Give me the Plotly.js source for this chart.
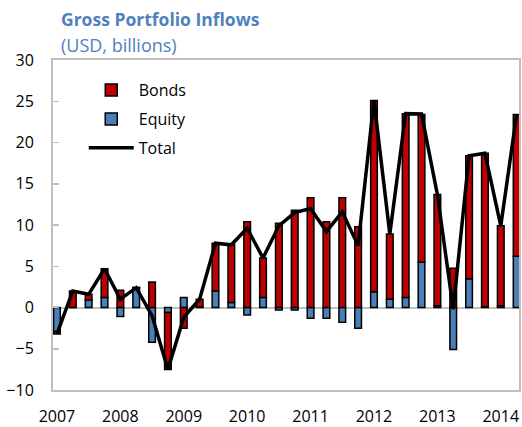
<!DOCTYPE html>
<html>
<head>
<meta charset="utf-8">
<script src="https://cdn.plot.ly/plotly-3.0.1.min.js"></script>
<style>html,body{margin:0;padding:0;background:#fff;}#chart{width:522px;height:427px;}</style>
</head>
<body>
<div id="chart"></div>
<script>
// 2007Q1 .. 2014Q2 (quarterly)
var quarters = ["2007Q1","2007Q2","2007Q3","2007Q4","2008Q1","2008Q2","2008Q3","2008Q4",
  "2009Q1","2009Q2","2009Q3","2009Q4","2010Q1","2010Q2","2010Q3","2010Q4",
  "2011Q1","2011Q2","2011Q3","2011Q4","2012Q1","2012Q2","2012Q3","2012Q4",
  "2013Q1","2013Q2","2013Q3","2013Q4","2014Q1","2014Q2"];
var equity = [-2.9, 0.0, 0.9, 1.2, -1.1, 2.4, -4.2, -0.6,
  1.2, 0.1, 2.0, 0.6, -0.9, 1.2, -0.3, -0.3,
  -1.3, -1.3, -1.8, -2.5, 1.9, 1.0, 1.2, 5.5,
  0.2, -5.1, 3.5, 0.1, 0.2, 6.2];
var bonds = [-0.3, 2.0, 0.7, 3.5, 2.1, 0.05, 3.1, -6.9,
  -2.5, 0.9, 5.8, 7.0, 10.4, 4.8, 10.2, 11.8,
  13.3, 10.4, 13.3, 9.8, 23.2, 7.9, 22.3, 17.9,
  13.5, 4.75, 14.9, 18.6, 9.7, 17.2];
var total = [-3.2, 2.0, 1.6, 4.7, 1.0, 2.4, -1.0, -7.5,
  -1.2, 1.0, 7.8, 7.6, 9.6, 6.0, 9.9, 11.5,
  12.0, 9.2, 11.6, 7.5, 25.1, 8.9, 23.5, 23.45,
  13.7, -0.2, 18.4, 18.7, 9.9, 23.4];
var yearTicks = [0, 4, 8, 12, 16, 20, 24, 28];
var yearLabels = ["2007","2008","2009","2010","2011","2012","2013","2014"];

var idx = quarters.map(function(q, i){ return i; });
var FONT = "'Open Sans', Lato, sans-serif";
var BLUE_TXT = "#4F81BD";

var traces = [
  {type: "bar", name: "Equity", x: idx, y: equity, text: quarters, hoverinfo: "text+y",
   marker: {color: "#4A80B8", line: {color: "#000000", width: 1.5}}, width: 0.42,
   legendrank: 2, legendgroup: "e"},
  {type: "bar", name: "Bonds", x: idx, y: bonds, text: quarters, hoverinfo: "text+y",
   marker: {color: "#C00000", line: {color: "#000000", width: 1.5}}, width: 0.42,
   legendrank: 1, legendgroup: "b"},
  {type: "scatter", mode: "lines", name: "Total", x: idx, y: total,
   line: {color: "#000000", width: 3.5}, legendrank: 3, legendgroup: "t"}
];
traces.forEach(function(t){ t.textposition = "none"; });

var layout = {
  width: 522, height: 427,
  margin: {l: 53, r: 3, t: 60, b: 37},
  paper_bgcolor: "#ffffff", plot_bgcolor: "#ffffff",
  font: {family: FONT, size: 16, color: "#000000"},
  barmode: "relative",
  bargap: 0,
  title: {
    text: "<b>Gross Portfolio Inflows</b>",
    font: {family: FONT, size: 17.5, color: BLUE_TXT},
    x: 61/522, xanchor: "left", xref: "container",
    y: 1 - 20/427, yanchor: "middle", yref: "container"
  },
  annotations: [{
    text: "(USD, billions)", showarrow: false,
    xref: "paper", yref: "paper",
    x: (59-53)/466, xanchor: "left",
    y: 1 + (60-45)/330, yanchor: "middle",
    font: {family: FONT, size: 18, color: BLUE_TXT}
  }],
  showlegend: true,
  legend: {
    x: 0.066, y: 0.96, xanchor: "left", yanchor: "top",
    font: {family: FONT, size: 16, color: "#000000"},
    bgcolor: "rgba(0,0,0,0)", itemwidth: 45, tracegroupgap: 5,
    traceorder: "grouped"
  },
  xaxis: {
    range: [-0.25, 29.15],
    tickmode: "array", tickvals: yearTicks, ticktext: yearLabels,
    ticks: "", showgrid: false, zeroline: false,
    showline: true, mirror: true, linecolor: "#BFBFBF", linewidth: 2,
    ticklabelstandoff: 11,
    tickfont: {family: FONT, size: 16, color: "#000000"}
  },
  yaxis: {
    range: [-10, 30], dtick: 5, tick0: 0,
    ticks: "inside", ticklen: 6, tickcolor: "#BFBFBF", tickwidth: 1.5,
    showgrid: false, zeroline: true, zerolinecolor: "#BFBFBF", zerolinewidth: 2,
    showline: true, mirror: true, linecolor: "#BFBFBF", linewidth: 2,
    ticklabelstandoff: 14,
    tickfont: {family: FONT, size: 16, color: "#000000"}
  }
};

Plotly.newPlot("chart", traces, layout, {displayModeBar: false, staticPlot: true});
</script>
</body>
</html>
